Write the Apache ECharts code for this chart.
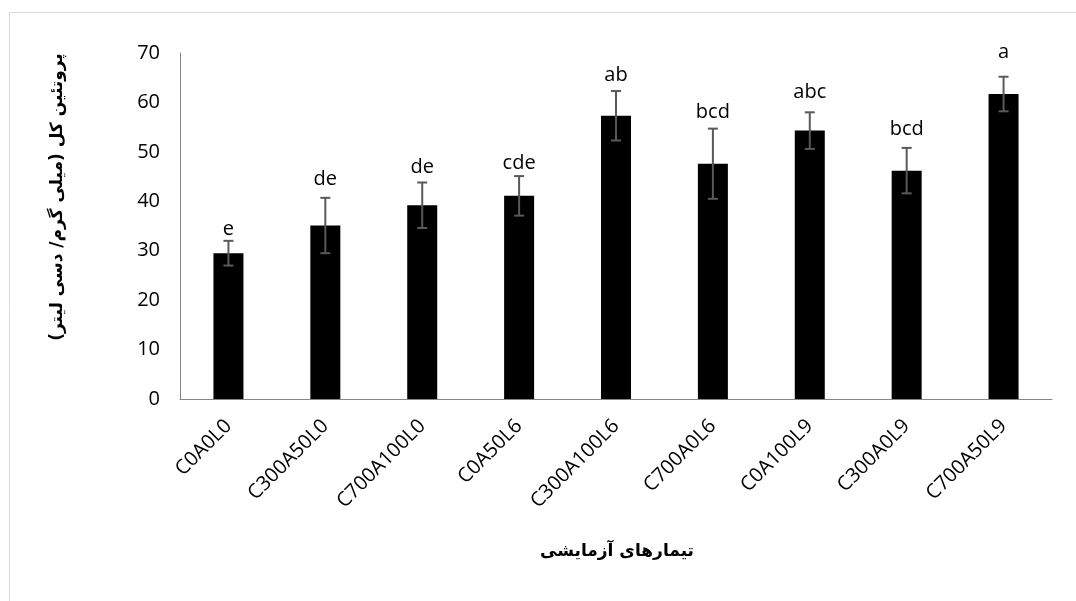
<!DOCTYPE html>
<html>
<head>
<meta charset="utf-8">
<script src="https://cdn.jsdelivr.net/npm/echarts@6/dist/echarts.min.js"></script>
<style>
html,body{margin:0;padding:0;background:#fff;}
#chart{width:1076px;height:601px;}
</style>
</head>
<body>
<div id="chart"></div>
<script>
var categories = ['C0A0L0','C300A50L0','C700A100L0','C0A50L6','C300A100L6','C700A0L6','C0A100L9','C300A0L9','C700A50L9'];
var means = [29.5, 35.1, 39.2, 41.1, 57.3, 47.6, 54.3, 46.2, 61.7];
var errors = [2.5, 5.6, 4.6, 4.0, 5.0, 7.1, 3.7, 4.6, 3.5];
var letters = ['e','de','de','cde','ab','bcd','abc','bcd','a'];
var letterLevels = [33.2, 43.2, 45.7, 46.5, 64.2, 56.7, 60.8, 53.4, 69.0];
var yTicks = [0, 10, 20, 30, 40, 50, 60, 70];
var yTitle = 'پروتئین کل (میلی گرم/ دسی لیتر)';
var xTitle = 'تیمارهای آزمایشی';

var chart = echarts.init(document.getElementById('chart'));
var errData = means.map(function (m, i) { return [i, m - errors[i], m + errors[i]]; });
var letterData = letters.map(function (t, i) { return [i, letterLevels[i], t]; });
var FONT = '"Open Sans", "Liberation Sans", sans-serif';

var option = {
  animation: false,
  backgroundColor: '#fff',
  grid: { left: 180, right: 24, top: 53, bottom: 202, containLabel: false },
  xAxis: {
    type: 'category',
    data: categories,
    axisLine: { lineStyle: { color: '#868686', width: 1 } },
    axisTick: { show: false },
    axisLabel: { rotate: 45, color: '#000', fontSize: 20, fontFamily: FONT, margin: 24, interval: 0 }
  },
  yAxis: {
    type: 'value',
    min: yTicks[0],
    max: yTicks[yTicks.length - 1],
    interval: 10,
    axisLine: { show: true, lineStyle: { color: '#868686', width: 1 } },
    axisTick: { show: false },
    splitLine: { show: false },
    axisLabel: { color: '#000', fontSize: 20, fontFamily: FONT, margin: 20 }
  },
  series: [
    {
      type: 'bar',
      data: means,
      barWidth: 30,
      itemStyle: { color: '#000' },
      z: 2
    },
    {
      type: 'custom',
      data: errData,
      z: 3,
      renderItem: function (params, api) {
        var x = api.value(0);
        var lo = api.coord([x, api.value(1)]);
        var hi = api.coord([x, api.value(2)]);
        var hw = 5;
        var st = { stroke: '#595959', lineWidth: 2 };
        return {
          type: 'group',
          children: [
            { type: 'line', shape: { x1: hi[0], y1: hi[1], x2: lo[0], y2: lo[1] }, style: st },
            { type: 'line', shape: { x1: hi[0] - hw, y1: hi[1], x2: hi[0] + hw, y2: hi[1] }, style: st },
            { type: 'line', shape: { x1: lo[0] - hw, y1: lo[1], x2: lo[0] + hw, y2: lo[1] }, style: st }
          ]
        };
      }
    },
    {
      type: 'custom',
      data: letterData,
      z: 4,
      renderItem: function (params, api) {
        var p = api.coord([api.value(0), api.value(1)]);
        return {
          type: 'text',
          x: p[0],
          y: p[1] - 6,
          style: {
            text: letterData[params.dataIndex][2],
            fill: '#000',
            font: '20px ' + FONT,
            textAlign: 'center',
            textVerticalAlign: 'middle'
          }
        };
      }
    }
  ],
  graphic: [
    {
      type: 'rect',
      shape: { x: 9.5, y: 12.5, width: 1100, height: 620 },
      style: { fill: null, stroke: '#d9d9d9', lineWidth: 1 },
      silent: true
    },
    {
      type: 'text',
      x: 58,
      y: 197,
      rotation: Math.PI / 2,
      style: {
        text: yTitle,
        fill: '#000',
        font: 'bold 17px "DejaVu Sans", sans-serif',
        textAlign: 'center',
        textVerticalAlign: 'middle'
      }
    },
    {
      type: 'text',
      x: 617,
      y: 552,
      style: {
        text: xTitle,
        fill: '#000',
        font: 'bold 17px "DejaVu Sans", sans-serif',
        textAlign: 'center',
        textVerticalAlign: 'middle'
      }
    }
  ]
};
chart.setOption(option);
</script>
</body>
</html>
